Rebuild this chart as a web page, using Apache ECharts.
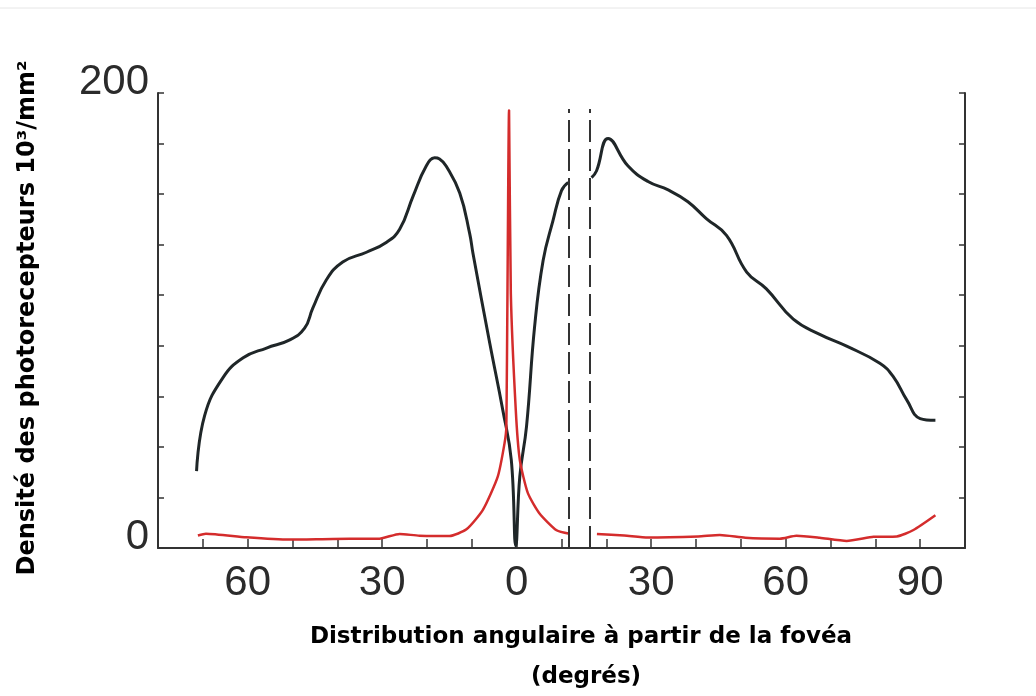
<!DOCTYPE html>
<html>
<head>
<meta charset="utf-8">
<script src="https://cdn.jsdelivr.net/npm/echarts@6/dist/echarts.min.js"></script>
<style>
html,body{margin:0;padding:0;background:#fff;}
#chart{width:1036px;height:696px;}
</style>
</head>
<body>
<div id="chart"></div>
<script>
// Rods (black curve): angle in degrees (negative = nasal side), density in 10^3/mm^2
const rodAngles = [-71.4,-69.6,-65.5,-61.0,-55.8,-50.6,-47.3,-45.5,-42.5,-38.8,-33.5,-29.1,-26.1,-23.1,-20.2,-18.3,-17.2,-15.7,-12.7,-10.5,-9.75,-6.0,-3.1,-1.2,-0.2,0.7,2.2,4.0,5.9,8.1,10.0,11.5,14,16.7,17.8,20.4,24.8,29.3,33.8,38.2,42.3,46.8,51.3,55.7,61.7,67.6,73.6,81.0,84.0,87.0,90.0,93.4];
const rodDensity = [33.8,58.2,74.9,83.6,87.9,91.5,96.6,105.3,117.7,125.7,130.0,134.3,140.1,154.7,167.8,171.5,171.0,167.8,156.0,138.4,129.6,90.0,60.7,38.7,1,31.5,53.5,97.3,126.4,143.9,157.1,160.7,null,162.8,165.7,180.0,168.0,161.1,157.4,152.2,144.8,137.4,121.3,113.9,100.6,93.9,88.7,81.2,75.3,65.1,56.9,56.1];
// Cones (red curve)
const coneAngles = [-71.1,-69.3,-60.3,-50.6,-41.0,-30.6,-26.1,-21.7,-15.0,-11.2,-7.5,-4.2,-2.7,-2.3,-1.7,-1.3,-0.2,0.7,2.5,5.1,8.9,11.8,14,17.9,24,29.3,40.5,45.3,51,58.7,62.4,67.6,73.6,79.6,84.8,88.5,93.4];
const coneDensity = [5.5,6.3,4.7,3.7,4.0,4.1,6.2,5.4,5.3,8.2,16.9,31.5,46.1,53.4,192.4,111.9,60.7,38.7,24.1,15.2,7.8,6.3,null,6.2,5.5,4.6,5.1,5.7,4.5,4.1,5.4,4.5,3.1,4.9,5.1,7.9,14.4];
// Blind spot (dashed vertical lines)
const blindSpot = [11.7, 16.2];
const blindSpotTop = 193;
// Axis labels
const xLabelValues = [-60,-30,0,30,60,90];
const yLabelValues = [0,200];

const zip = (a,b) => a.map((v,i) => [v, b[i]]);

const chart = echarts.init(document.getElementById('chart'));
const axisColor = '#333';
const labelFont = {fontFamily:'"Liberation Sans", Arial, sans-serif', fontSize:42, color:'#2b2b2b'};

chart.setOption({
  animation:false,
  backgroundColor:'#fff',
  grid:{left:158, right:71, top:93, bottom:148},
  xAxis:{
    type:'value', min:-80, max:100, interval:10,
    axisLine:{show:true, onZero:false, lineStyle:{color:axisColor, width:2}},
    axisTick:{show:true, inside:true, length:9, lineStyle:{color:axisColor, width:1.5}},
    splitLine:{show:false},
    axisLabel:Object.assign({margin:14, formatter:v => xLabelValues.includes(v) ? String(Math.abs(v)) : ''}, labelFont)
  },
  yAxis:[
    {type:'value', min:0, max:200, interval:200/9, position:'left',
     axisLine:{show:true, onZero:false, lineStyle:{color:axisColor, width:2}},
     axisTick:{show:true, inside:true, length:6, lineStyle:{color:axisColor, width:1.5}},
     splitLine:{show:false},
     axisLabel:Object.assign({margin:9, verticalAlign:'bottom', lineHeight:22,
       formatter:v => (v < 0.01 ? String(yLabelValues[0]) : (v > 199.9 ? String(yLabelValues[1]) : ''))}, labelFont)
    },
    {type:'value', min:0, max:200, interval:200/9, position:'right',
     axisLine:{show:true, onZero:false, lineStyle:{color:axisColor, width:2}},
     axisTick:{show:true, inside:true, length:6, lineStyle:{color:axisColor, width:1.5}},
     splitLine:{show:false}, axisLabel:{show:false}
    }
  ],
  series:[
    {type:'line', name:'Bâtonnets', data:zip(rodAngles, rodDensity), showSymbol:false, symbol:'none',
     smooth:0.45, connectNulls:false, lineStyle:{color:'#1f2628', width:3}, z:3,
     markLine:{silent:true, symbol:'none', label:{show:false},
       lineStyle:{color:'#333', width:2, type:[22,7]},
       data: blindSpot.map(a => [{coord:[a,0]},{coord:[a,blindSpotTop]}])}
    },
    {type:'line', name:'Cônes', data:zip(coneAngles, coneDensity), showSymbol:false, symbol:'none',
     smooth:0.2, connectNulls:false, lineStyle:{color:'#d42c2c', width:2.5}, z:4}
  ],
  graphic:[
    {type:'line', shape:{x1:0, y1:8, x2:1036, y2:8}, style:{stroke:'#e6e6e6', lineWidth:1}},
    {type:'text', x:28, y:318, rotation:Math.PI/2,
     style:{text:'Densité des photorecepteurs 10³/mm²', textAlign:'center', textVerticalAlign:'middle',
            font:'bold 24px "DejaVu Sans", sans-serif', fill:'#000'}},
    {type:'text', x:581, y:637,
     style:{text:'Distribution angulaire à partir de la fovéa', textAlign:'center', textVerticalAlign:'middle',
            font:'bold 23px "DejaVu Sans", sans-serif', fill:'#000'}},
    {type:'text', x:586, y:677,
     style:{text:'(degrés)', textAlign:'center', textVerticalAlign:'middle',
            font:'bold 23px "DejaVu Sans", sans-serif', fill:'#000'}}
  ]
});
</script>
</body>
</html>
